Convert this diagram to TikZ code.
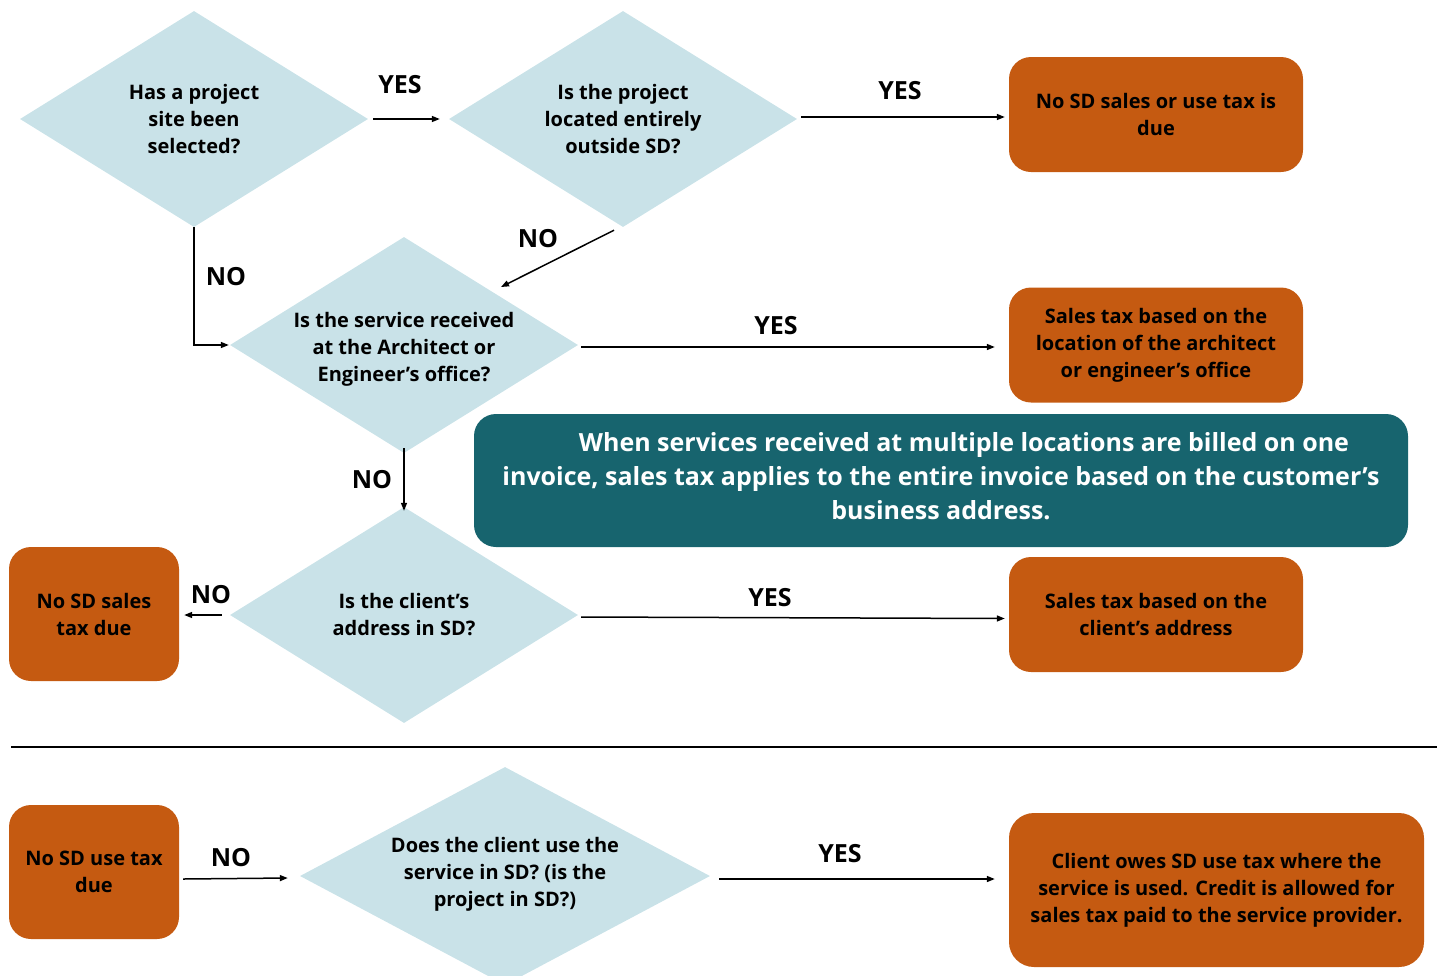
\documentclass[tikz,border=0pt]{standalone}
\usepackage{fontspec}
\setmainfont{Open Sans}
\usetikzlibrary{shapes.geometric,arrows.meta}
\definecolor{dia}{HTML}{C9E2E8}
\definecolor{org}{HTML}{C55A11}
\definecolor{tealbox}{HTML}{17646E}
\begin{document}
\begin{tikzpicture}[x=1pt,y=-1pt,
  dec/.style={diamond, fill=dia, inner sep=0pt, minimum width=348pt, minimum height=216pt},
  dtext/.style={align=center, inner sep=0pt, font=\bfseries\fontsize{20}{27}\selectfont},
  res/.style={rectangle, rounded corners=22pt, fill=org, inner sep=0pt, align=center,
    minimum width=294pt, minimum height=115pt, font=\bfseries\fontsize{20}{27}\selectfont},
  note/.style={rectangle, rounded corners=22pt, fill=tealbox, inner sep=0pt,
    minimum width=934pt, minimum height=133pt},
  notetext/.style={text=white, inner sep=0pt, align=center, font=\bfseries\fontsize{25}{34}\selectfont},
  arr/.style={-{Triangle[length=8pt,width=6pt]}, line width=1.5pt},
  lab/.style={inner sep=0pt, font=\bfseries\fontsize{25}{30}\selectfont}
]
\useasboundingbox (0,0) rectangle (1439,975);
\clip (0,0) rectangle (1439,975);

% decisions
\node[dec] (d1) at (194,119) {};
\node[dtext] (d1t) at (d1) {Has a project\\site been\\selected?};
\node[dec] (d2) at (623,119) {};
\node[dtext] (d2t) at (d2) {Is the project\\located entirely\\outside SD?};
\node[dec] (d3) at (404,345) {};
\node[dtext] (d3t) at (404,349) {Is the service received\\at the Architect or\\Engineer’s office?};
\node[dec] (d4) at (404,615) {};
\node[dtext] (d4t) at (d4) {Is the client’s\\address in SD?};
\node[dec, minimum width=410pt, minimum height=218pt] (d5) at (505,876) {};
\node[dtext] (d5t) at (505,874) {Does the client use the\\service in SD? (is the\\project in SD?)};

% results
\node[res] (b1) at (1156,114.5) {No SD sales or use tax is\\due};
\node[res] (b2) at (1156,345) {Sales tax based on the\\location of the architect\\or engineer’s office};
\node[res] (b3) at (1156,614.5) {Sales tax based on the\\client’s address};
\node[res, minimum width=170pt, minimum height=134pt] (b4) at (94,614) {No SD sales\\tax due};
\node[res, minimum width=170pt, minimum height=134pt] (b5) at (94,872) {No SD use tax\\due};
\node[res, minimum width=415pt, minimum height=154pt, rounded corners=25pt] (b6) at (1216.5,890) {Client owes SD use tax where the\\service is used. Credit is allowed for\\sales tax paid to the service provider.};

% note
\node[note] (n1) at (941,480.5) {};
\node[notetext] (n1t) at (941,476) {\hspace*{46pt}When services received at multiple locations are billed on one\\invoice, sales tax applies to the entire invoice based on the customer’s\\business address.};

% separator
\coordinate (sepL) at (11,747);
\coordinate (sepR) at (1437,747);
\draw[line width=2pt] (sepL) -- (sepR);

% connectors
\draw[arr] ([xshift=5]d1.east) -- ([xshift=-9]d2.west);
\node[lab] (l1) at (400,85) {YES};

\coordinate (s2) at ([shift={(4,-2)}]d2.east);
\draw[arr] (s2) -- ([xshift=-4]b1.west |- s2);
\node[lab] (l2) at (900,91) {YES};

\coordinate (a3e) at (501,287);
\draw[arr] ([shift={(-9,3)}]d2.south) -- (a3e);
\node[lab] (l3) at (538,239) {NO};

\draw[arr] (d1.south) -- (d1.south |- d3.west) -- ([xshift=-1]d3.west);
\node[lab] (l4) at (226,277) {NO};

\draw[arr] ([shift={(3,2)}]d3.east) -- ([shift={(-14,2)}]b2.west);
\node[lab] (l5) at (776,326) {YES};

\draw[arr] ([yshift=5]d3.south) -- ([yshift=-4]d4.north);
\node[lab] (l6) at (372,480) {NO};

\draw[arr] ([xshift=-8]d4.west) -- ([xshift=5]b4.east |- d4.west);
\node[lab] (l7) at (211,595) {NO};

\draw[arr] ([shift={(3,2)}]d4.east) -- ([shift={(-4,4)}]b3.west);
\node[lab] (l8) at (770,598) {YES};

\draw[arr] ([shift={(4,7)}]b5.east) -- ([shift={(-12,2)}]d5.west);
\node[lab] (l9) at (231,858) {NO};

\coordinate (s10) at ([shift={(9,3)}]d5.east);
\draw[arr] (s10) -- ([xshift=-14]b6.west |- s10);
\node[lab] (l10) at (840,854) {YES};
\end{tikzpicture}
\end{document}
